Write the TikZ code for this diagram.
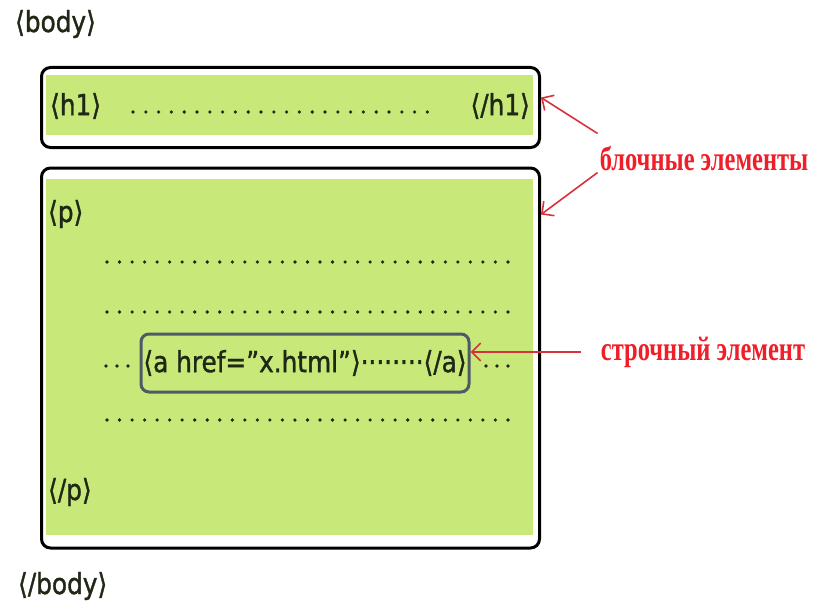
\documentclass[tikz,border=0pt]{standalone}
\usepackage{fontspec}
\setmainfont[FakeStretch=0.95, FakeBold=1.2]{DejaVu Sans Condensed}
\newfontfamily\notefont[FakeStretch=0.72]{Liberation Serif}
\usetikzlibrary{arrows.meta}
\definecolor{leaf}{RGB}{200,232,122}
\definecolor{tagink}{RGB}{30,40,20}
\definecolor{notered}{RGB}{240,30,40}
\definecolor{arrowred}{RGB}{215,50,60}
\definecolor{slate}{RGB}{80,90,102}
\tikzset{
  blockbox/.style={draw=black, line width=3pt, rounded corners=9pt, fill=white},
  inlinebox/.style={draw=slate, line width=3pt, rounded corners=8pt, inner sep=0pt},
  tag/.style={font=\fontsize{29}{33}\selectfont, text=tagink, inner sep=0pt},
  note/.style={font=\notefont\bfseries\fontsize{34}{38}\selectfont, text=notered, inner sep=0pt},
  pointer/.style={arrowred, line width=1.6pt, -{Straight Barb[length=9pt,width=18pt]}},
}
\begin{document}
\begin{tikzpicture}[x=1pt, y=-1pt]
    \useasboundingbox (0,0) rectangle (819,610);

    % Block boxes
    \node[blockbox, minimum width=498pt, minimum height=80pt] (h1box) at (290.5,107.5) {};
    \node[blockbox, minimum width=498pt, minimum height=380pt] (pbox) at (290.5,358) {};
    \fill[leaf] ([shift={(6,9)}]h1box.north west) rectangle ([shift={(-8,-14)}]h1box.south east);
    \fill[leaf] ([shift={(6,12)}]pbox.north west) rectangle ([shift={(-8,-15)}]pbox.south east);

    % Tags
    \node[tag, anchor=west] (bodyopen) at (15,24) {⟨body⟩};
    \node[tag, anchor=west] (bodyclose) at (18,586) {⟨/body⟩};
    \node[tag, anchor=west] (h1open) at (50,106) {⟨h1⟩};
    \node[tag, anchor=east] (h1close) at (530,106) {⟨/h1⟩};
    \node[tag, anchor=west] (popen) at (48,214) {⟨p⟩};
    \node[tag, anchor=west] (pclose) at (48,492) {⟨/p⟩};

    % Dotted content
    \foreach \i in {0,...,23}
        \fill[tagink] (133+\i*12.8,112) circle (1.8);
    \foreach \y in {262,312,420}
        \foreach \i in {0,...,32}
            \fill[tagink] (107+\i*12.53,\y) circle (1.8);
    \foreach \x in {106,117,128,486,497,508}
        \fill[tagink] (\x,366) circle (1.8);

    % Inline element
    \node[inlinebox, tag, minimum width=328pt, minimum height=58pt] (abox) at (305,363)
        {⟨a href=”x.html”⟩········⟨/a⟩};

    % Labels
    \node[note] (blocknote) at (704,158) {блочные элементы};
    \node[note] (inlinenote) at (703,352) {строчный элемент};
    \draw[pointer] ([shift={(-2,-12)}]blocknote.north west) -- ([shift={(0,-10)}]h1box.east);
    \draw[pointer] ([shift={(-2,2)}]blocknote.south west) -- ([shift={(0,48)}]pbox.north east);
    \draw[pointer] ([shift={(-20,0)}]inlinenote.west) -- ([shift={(0,-11)}]abox.east);
\end{tikzpicture}
\end{document}
